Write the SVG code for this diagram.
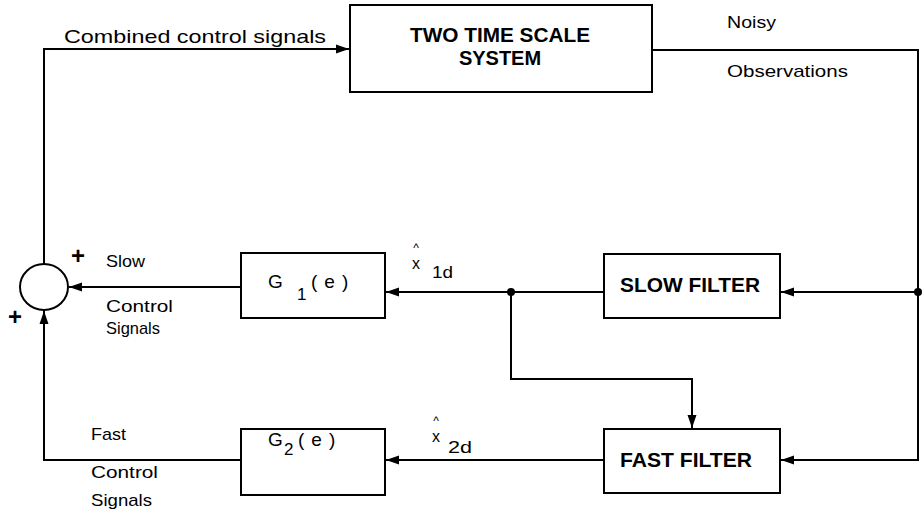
<svg xmlns="http://www.w3.org/2000/svg" width="924" height="514" viewBox="0 0 924 514">
<style>
.box{fill:#fff;stroke:#000;stroke-width:2}
.ln{fill:none;stroke:#000;stroke-width:2}
.t{font-family:"Liberation Sans",Arial,sans-serif;font-size:17px;fill:#000}
.b{font-family:"Liberation Sans",Arial,sans-serif;font-size:20px;font-weight:bold;fill:#000}
.g{font-family:"Liberation Sans",Arial,sans-serif;font-size:19px;fill:#000}
.p{font-family:"Liberation Sans",Arial,sans-serif;font-size:19px;fill:#000;letter-spacing:7px}
.s{font-family:"Liberation Sans",Arial,sans-serif;font-size:17px;fill:#000}
.h{font-family:"Liberation Sans",Arial,sans-serif;font-size:12px;fill:#000}
.x{font-family:"Liberation Sans",Arial,sans-serif;font-size:16px;fill:#000}
.pl{font-family:"Liberation Sans",Arial,sans-serif;font-size:24px;font-weight:bold;fill:#000}
</style>
<defs>
<marker id="ar" markerUnits="userSpaceOnUse" markerWidth="14" markerHeight="10" refX="13" refY="5" orient="auto">
<path d="M0,0.5 L13,5 L0,9.5 Z" fill="#000"/>
</marker>
</defs>
<rect width="924" height="514" fill="#fff"/>
<g id="connectors">
<path class="ln" d="M44,264 V49 H349" marker-end="url(#ar)"/>
<path class="ln" d="M652,50 H918 V460 H781" marker-end="url(#ar)"/>
<path class="ln" d="M918,292 H781" marker-end="url(#ar)"/>
<path class="ln" d="M604,292 H386" marker-end="url(#ar)"/>
<path class="ln" d="M511,292 V379 H692 V428" marker-end="url(#ar)"/>
<path class="ln" d="M604,460 H386" marker-end="url(#ar)"/>
<path class="ln" d="M241,287 H69" marker-end="url(#ar)"/>
<path class="ln" d="M241,460 H44 V311" marker-end="url(#ar)"/>
<circle cx="511" cy="292" r="4" fill="#000"/>
<circle cx="918" cy="292" r="4" fill="#000"/>
</g>
<g id="system">
<rect class="box" x="350" y="5" width="302" height="87"/>
<text class="b" x="500" y="42" text-anchor="middle" textLength="180" lengthAdjust="spacingAndGlyphs">TWO TIME SCALE</text>
<text class="b" x="500" y="65" text-anchor="middle">SYSTEM</text>
</g>
<g id="sum">
<ellipse cx="44" cy="287" rx="24" ry="23" fill="#fff" stroke="#000" stroke-width="2"/>
</g>
<g id="g1">
<rect class="box" x="241" y="253" width="144" height="65"/>
<text class="g" x="268" y="288">G</text>
<text class="s" x="297" y="300">1</text>
<text class="p" x="311" y="288">(e)</text>
</g>
<g id="g2">
<rect class="box" x="241" y="429" width="144" height="66"/>
<text class="g" x="268" y="446">G</text>
<text class="s" x="284" y="455">2</text>
<text class="p" x="298" y="446">(e)</text>
</g>
<g id="slowfilter">
<rect class="box" x="604" y="254" width="176" height="64"/>
<text class="b" x="620" y="292" textLength="140" lengthAdjust="spacingAndGlyphs">SLOW FILTER</text>
</g>
<g id="fastfilter">
<rect class="box" x="604" y="429" width="176" height="64"/>
<text class="b" x="620" y="467" textLength="132" lengthAdjust="spacingAndGlyphs">FAST FILTER</text>
</g>
<g id="labels">
<text class="t" x="64" y="43" style="font-size:19px" textLength="262" lengthAdjust="spacingAndGlyphs">Combined control signals</text>
<text class="t" x="727" y="28" textLength="49" lengthAdjust="spacingAndGlyphs">Noisy</text>
<text class="t" x="727" y="77" textLength="121" lengthAdjust="spacingAndGlyphs">Observations</text>
<text class="pl" x="78" y="264" text-anchor="middle">+</text>
<text class="pl" x="15" y="325" text-anchor="middle">+</text>
<text class="t" x="106" y="267" textLength="39" lengthAdjust="spacingAndGlyphs">Slow</text>
<text class="t" x="106" y="312" textLength="67" lengthAdjust="spacingAndGlyphs">Control</text>
<text class="t" x="106" y="334" textLength="54" lengthAdjust="spacingAndGlyphs">Signals</text>
<text class="t" x="91" y="440" textLength="35" lengthAdjust="spacingAndGlyphs">Fast</text>
<text class="t" x="91" y="478" textLength="67" lengthAdjust="spacingAndGlyphs">Control</text>
<text class="t" x="91" y="506" textLength="61" lengthAdjust="spacingAndGlyphs">Signals</text>
<text class="h" x="416" y="252" text-anchor="middle">^</text>
<text class="x" x="416" y="269" text-anchor="middle">x</text>
<text class="t" x="432" y="278" textLength="21" lengthAdjust="spacingAndGlyphs">1d</text>
<text class="h" x="436" y="425" text-anchor="middle">^</text>
<text class="x" x="436" y="442" text-anchor="middle">x</text>
<text class="t" x="448" y="453" textLength="24" lengthAdjust="spacingAndGlyphs">2d</text>
</g>
</svg>
